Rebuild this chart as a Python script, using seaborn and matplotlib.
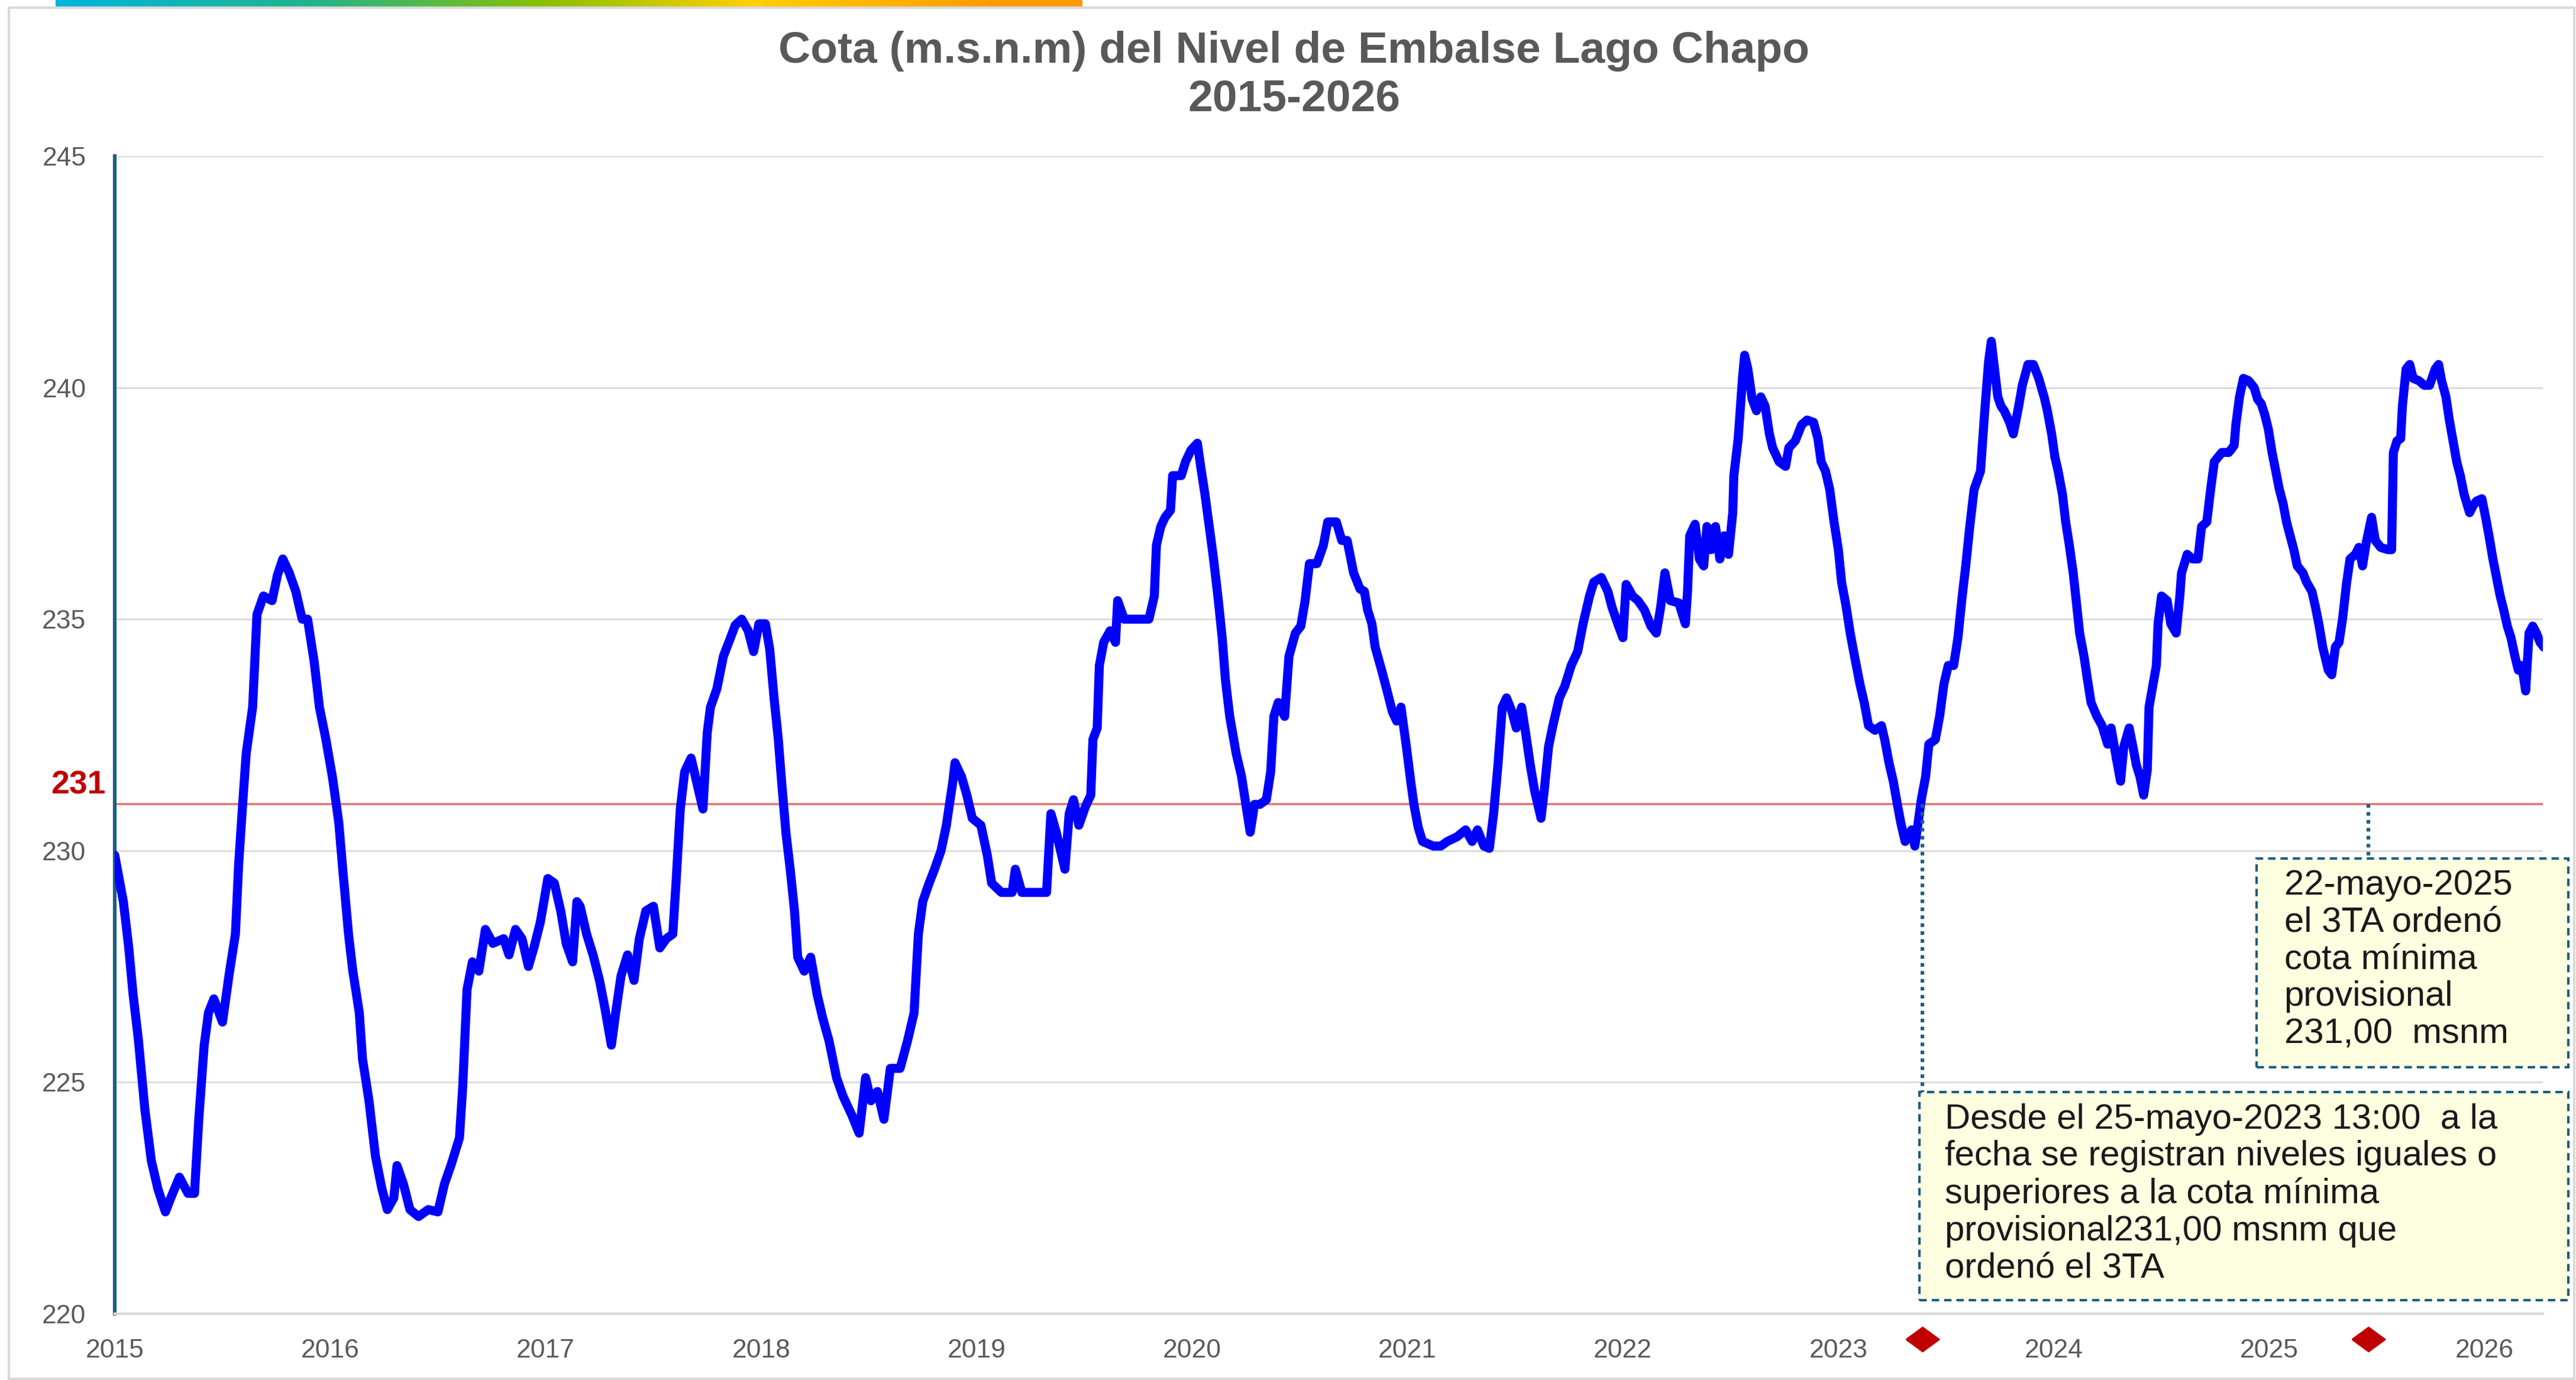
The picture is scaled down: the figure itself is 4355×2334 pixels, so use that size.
import numpy as np
import pandas as pd
import matplotlib.pyplot as plt
import matplotlib.ticker as mticker
from matplotlib.colors import LinearSegmentedColormap
from matplotlib.patches import Rectangle
import seaborn as sns

# Cota del embalse: (anio decimal, m.s.n.m)
tramo_2015_2017 = [
    (2015.00, 229.9), (2015.04, 228.9), (2015.065, 227.9), (2015.085, 226.9), (2015.11, 225.9),
    (2015.14, 224.4), (2015.17, 223.3), (2015.20, 222.7), (2015.235, 222.2), (2015.26, 222.5),
    (2015.30, 222.95), (2015.34, 222.6), (2015.37, 222.6), (2015.39, 224.2), (2015.415, 225.8),
    (2015.435, 226.5), (2015.46, 226.8), (2015.50, 226.3), (2015.53, 227.3), (2015.56, 228.2),
    (2015.575, 229.7), (2015.595, 231.1), (2015.61, 232.1), (2015.64, 233.1), (2015.66, 235.1),
    (2015.69, 235.5), (2015.73, 235.4), (2015.755, 235.95), (2015.78, 236.3), (2015.81, 236.0),
    (2015.84, 235.6), (2015.87, 235.0), (2015.895, 235.0), (2015.925, 234.1), (2015.95, 233.1),
    (2015.98, 232.4), (2016.01, 231.6), (2016.04, 230.6), (2016.06, 229.5), (2016.085, 228.2),
    (2016.105, 227.4), (2016.135, 226.5), (2016.15, 225.5), (2016.18, 224.6), (2016.21, 223.4),
    (2016.24, 222.7), (2016.265, 222.25), (2016.295, 222.5), (2016.31, 223.2), (2016.34, 222.8),
    (2016.37, 222.25), (2016.41, 222.1), (2016.455, 222.25), (2016.50, 222.2), (2016.53, 222.8),
    (2016.56, 223.2), (2016.60, 223.8), (2016.615, 224.9), (2016.635, 227.0), (2016.66, 227.6),
    (2016.69, 227.4), (2016.72, 228.3), (2016.755, 228.0), (2016.805, 228.1), (2016.83, 227.75),
    (2016.86, 228.3), (2016.89, 228.1), (2016.92, 227.5), (2016.945, 227.9), (2016.975, 228.45),
    (2017.01, 229.4), (2017.04, 229.3), (2017.07, 228.7), (2017.095, 228.0), (2017.125, 227.6),
    (2017.145, 228.9), (2017.16, 228.8), (2017.19, 228.2), (2017.22, 227.75), (2017.25, 227.2),
    (2017.275, 226.6), (2017.305, 225.8), (2017.325, 226.5), (2017.35, 227.3), (2017.38, 227.75),
    (2017.41, 227.2), (2017.435, 228.1), (2017.465, 228.7), (2017.50, 228.8), (2017.53, 227.9),
    (2017.56, 228.1), (2017.59, 228.2), (2017.605, 229.3), (2017.625, 230.9), (2017.645, 231.7),
    (2017.675, 232.0), (2017.70, 231.5), (2017.73, 230.9), (2017.75, 232.55), (2017.765, 233.1),
    (2017.795, 233.5), (2017.825, 234.2), (2017.85, 234.5),
]

tramo_2018_2020 = [
    (2017.88, 234.87), (2017.91, 235.0), (2017.94, 234.75), (2017.965, 234.3), (2017.99, 234.9),
    (2018.02, 234.9), (2018.04, 234.35), (2018.06, 233.3), (2018.08, 232.4), (2018.095, 231.5),
    (2018.115, 230.4), (2018.135, 229.6), (2018.155, 228.7), (2018.17, 227.7), (2018.20, 227.4),
    (2018.23, 227.7), (2018.26, 226.9), (2018.285, 226.4), (2018.315, 225.9), (2018.35, 225.1),
    (2018.38, 224.7), (2018.42, 224.3), (2018.455, 223.9), (2018.485, 225.1), (2018.51, 224.6),
    (2018.54, 224.8), (2018.57, 224.2), (2018.60, 225.3), (2018.645, 225.3), (2018.68, 225.9),
    (2018.71, 226.5), (2018.73, 228.2), (2018.75, 228.9), (2018.78, 229.3), (2018.805, 229.6),
    (2018.835, 230.0), (2018.86, 230.55), (2018.89, 231.5), (2018.90, 231.9), (2018.93, 231.6),
    (2018.955, 231.2), (2018.98, 230.7), (2019.02, 230.55), (2019.05, 229.9), (2019.07, 229.3),
    (2019.115, 229.1), (2019.165, 229.1), (2019.18, 229.6), (2019.21, 229.1), (2019.27, 229.1),
    (2019.325, 229.1), (2019.345, 230.8), (2019.37, 230.4), (2019.39, 230.0), (2019.41, 229.6),
    (2019.43, 230.8), (2019.45, 231.1), (2019.475, 230.55), (2019.505, 230.95), (2019.53, 231.2),
    (2019.54, 232.4), (2019.56, 232.65), (2019.57, 234.0), (2019.59, 234.5), (2019.62, 234.75),
    (2019.645, 234.5), (2019.655, 235.4), (2019.685, 235.0), (2019.72, 235.0), (2019.76, 235.0),
    (2019.80, 235.0), (2019.825, 235.5), (2019.835, 236.6), (2019.855, 237.0), (2019.875, 237.2),
    (2019.90, 237.35), (2019.91, 238.1), (2019.95, 238.1), (2019.97, 238.4), (2019.995, 238.65),
    (2020.025, 238.8), (2020.04, 238.3), (2020.06, 237.7), (2020.08, 237.0), (2020.10, 236.3),
    (2020.12, 235.5), (2020.14, 234.6), (2020.155, 233.7), (2020.175, 232.9), (2020.205, 232.1),
    (2020.23, 231.6), (2020.25, 231.0), (2020.27, 230.4), (2020.29, 231.0), (2020.315, 231.0),
    (2020.345, 231.1), (2020.365, 231.7), (2020.38, 232.9), (2020.40, 233.2), (2020.43, 232.9),
    (2020.45, 234.2), (2020.48, 234.7), (2020.505, 234.85), (2020.525, 235.4), (2020.545, 236.2),
    (2020.58, 236.2), (2020.61, 236.6), (2020.63, 237.1), (2020.67, 237.1), (2020.695, 236.7),
    (2020.72, 236.7), (2020.75, 236.0), (2020.78, 235.65),
]

tramo_2021_2023 = [
    (2020.80, 235.6), (2020.815, 235.2), (2020.835, 234.9), (2020.85, 234.4), (2020.88, 233.9),
    (2020.90, 233.55), (2020.93, 233.0), (2020.95, 232.8), (2020.97, 233.1), (2020.995, 232.25),
    (2021.015, 231.5), (2021.03, 231.0), (2021.05, 230.5), (2021.07, 230.2), (2021.12, 230.1),
    (2021.155, 230.1), (2021.185, 230.2), (2021.23, 230.3), (2021.27, 230.45), (2021.30, 230.2),
    (2021.325, 230.45), (2021.355, 230.1), (2021.38, 230.05), (2021.40, 230.8), (2021.42, 231.85),
    (2021.44, 233.1), (2021.46, 233.3), (2021.485, 233.0), (2021.505, 232.65), (2021.53, 233.1),
    (2021.55, 232.5), (2021.57, 231.85), (2021.59, 231.3), (2021.62, 230.7), (2021.635, 231.3),
    (2021.655, 232.25), (2021.675, 232.7), (2021.705, 233.3), (2021.73, 233.55), (2021.76, 234.0),
    (2021.79, 234.3), (2021.815, 234.9), (2021.845, 235.5), (2021.865, 235.8), (2021.90, 235.9),
    (2021.93, 235.6), (2021.95, 235.25), (2021.98, 234.85), (2022.00, 234.6), (2022.015, 235.75),
    (2022.045, 235.5), (2022.07, 235.4), (2022.10, 235.2), (2022.13, 234.85), (2022.155, 234.7),
    (2022.175, 235.25), (2022.195, 236.0), (2022.22, 235.4), (2022.26, 235.35), (2022.29, 234.9),
    (2022.30, 235.6), (2022.31, 236.8), (2022.335, 237.05), (2022.355, 236.3), (2022.375, 236.15),
    (2022.39, 237.0), (2022.41, 236.5), (2022.43, 237.0), (2022.45, 236.3), (2022.47, 236.8),
    (2022.49, 236.4), (2022.51, 237.3), (2022.515, 238.1), (2022.535, 238.9), (2022.555, 240.2),
    (2022.565, 240.7), (2022.58, 240.4), (2022.60, 239.75), (2022.62, 239.5), (2022.64, 239.8),
    (2022.66, 239.6), (2022.68, 239.0), (2022.695, 238.7), (2022.725, 238.4), (2022.755, 238.3),
    (2022.77, 238.7), (2022.80, 238.85), (2022.83, 239.2), (2022.855, 239.3), (2022.885, 239.25),
    (2022.905, 238.9), (2022.92, 238.4), (2022.94, 238.2), (2022.96, 237.8), (2022.98, 237.1),
    (2023.00, 236.5), (2023.015, 235.8), (2023.035, 235.3), (2023.055, 234.7), (2023.075, 234.2),
    (2023.10, 233.6), (2023.12, 233.2), (2023.14, 232.7), (2023.17, 232.6), (2023.20, 232.7),
    (2023.215, 232.4), (2023.235, 231.9), (2023.255, 231.5), (2023.27, 231.1), (2023.29, 230.6),
    (2023.31, 230.2), (2023.34, 230.45), (2023.355, 230.1), (2023.385, 231.1), (2023.405, 231.6),
    (2023.42, 232.3), (2023.45, 232.4), (2023.47, 232.9), (2023.49, 233.6), (2023.51, 234.0),
    (2023.535, 234.0), (2023.555, 234.6), (2023.575, 235.5), (2023.59, 236.1), (2023.61, 237.0),
    (2023.63, 237.8), (2023.66, 238.2), (2023.678, 239.4), (2023.697, 240.55),
]

tramo_2024_2026 = [
    (2023.71, 241.0), (2023.725, 240.4), (2023.74, 239.8), (2023.755, 239.6), (2023.77, 239.5),
    (2023.795, 239.25), (2023.812, 239.0), (2023.837, 239.6), (2023.854, 240.05), (2023.88, 240.5),
    (2023.905, 240.5), (2023.93, 240.2), (2023.955, 239.8), (2023.97, 239.5), (2023.99, 239.0),
    (2024.005, 238.5), (2024.02, 238.2), (2024.04, 237.7), (2024.055, 237.1), (2024.072, 236.6),
    (2024.09, 236.0), (2024.106, 235.3), (2024.12, 234.7), (2024.14, 234.2), (2024.156, 233.7),
    (2024.173, 233.2), (2024.20, 232.9), (2024.224, 232.7), (2024.25, 232.3), (2024.266, 232.65),
    (2024.29, 232.0), (2024.31, 231.5), (2024.325, 232.25), (2024.35, 232.65), (2024.367, 232.25),
    (2024.383, 231.85), (2024.40, 231.6), (2024.417, 231.2), (2024.434, 231.75), (2024.442, 233.1),
    (2024.459, 233.55), (2024.476, 234.0), (2024.484, 234.9), (2024.50, 235.5), (2024.526, 235.4),
    (2024.543, 234.9), (2024.568, 234.7), (2024.585, 235.5), (2024.593, 236.0), (2024.619, 236.4),
    (2024.644, 236.3), (2024.669, 236.3), (2024.686, 237.0), (2024.71, 237.1), (2024.728, 237.8),
    (2024.745, 238.4), (2024.78, 238.6), (2024.812, 238.6), (2024.837, 238.75), (2024.845, 239.2),
    (2024.862, 239.8), (2024.88, 240.2), (2024.904, 240.15), (2024.93, 240.0), (2024.946, 239.75),
    (2024.963, 239.65), (2024.98, 239.4), (2024.996, 239.1), (2025.013, 238.6), (2025.03, 238.2),
    (2025.047, 237.8), (2025.064, 237.5), (2025.08, 237.1), (2025.097, 236.8), (2025.114, 236.5),
    (2025.13, 236.15), (2025.156, 236.0), (2025.173, 235.8), (2025.198, 235.6), (2025.215, 235.25),
    (2025.232, 234.85), (2025.248, 234.4), (2025.274, 233.9), (2025.29, 233.8), (2025.307, 234.4),
    (2025.324, 234.5), (2025.34, 235.0), (2025.358, 235.75), (2025.375, 236.3), (2025.40, 236.4),
    (2025.416, 236.55), (2025.433, 236.15), (2025.45, 236.65), (2025.475, 237.2), (2025.492, 236.7),
    (2025.517, 236.55), (2025.551, 236.5), (2025.568, 236.5), (2025.576, 238.6), (2025.593, 238.85),
    (2025.61, 238.9), (2025.618, 239.6), (2025.635, 240.4), (2025.652, 240.5), (2025.668, 240.2),
    (2025.694, 240.15), (2025.72, 240.05), (2025.744, 240.05), (2025.77, 240.4), (2025.786, 240.5),
    (2025.80, 240.15), (2025.82, 239.8), (2025.836, 239.3), (2025.853, 238.85), (2025.87, 238.4),
    (2025.887, 238.1), (2025.904, 237.7), (2025.93, 237.3), (2025.946, 237.45), (2025.962, 237.55),
    (2025.987, 237.6), (2026.004, 237.2), (2026.02, 236.8), (2026.038, 236.3), (2026.055, 235.9),
    (2026.072, 235.5), (2026.088, 235.2), (2026.105, 234.85), (2026.122, 234.6), (2026.14, 234.2),
    (2026.156, 233.9), (2026.172, 234.0), (2026.19, 233.45), (2026.206, 234.7), (2026.223, 234.85),
    (2026.24, 234.7), (2026.257, 234.5), (2026.273, 234.4),
]

anios_eje = list(range(2015, 2027))
cotas_eje = [220, 225, 230, 235, 240, 245]
cota_minima = 231
fechas_marca = [2023.39, 2025.46]   # 25-mayo-2023 y orden 2025

titulo_1 = 'Cota (m.s.n.m) del Nivel de Embalse Lago Chapo'
titulo_2 = '2015-2026'
texto_2025 = '22-mayo-2025\nel 3TA ordenó\ncota mínima\nprovisional\n231,00  msnm'
texto_2023 = ('Desde el 25-mayo-2023 13:00  a la\nfecha se registran niveles iguales o\n'
              'superiores a la cota mínima\nprovisional231,00 msnm que\nordenó el 3TA')

df = pd.DataFrame(tramo_2015_2017 + tramo_2018_2020 + tramo_2021_2023 + tramo_2024_2026,
                  columns=['anio', 'cota'])

sns.set_style('white')
plt.rcParams['font.family'] = ['Liberation Sans', 'DejaVu Sans']

gris = '#595959'
azul_eje = '#1B5E80'
gris_claro = '#D9D9D9'

fig = plt.figure(figsize=(21.775, 11.67), dpi=200)
ax = fig.add_axes([0.04455, 0.04799, 0.94259, 0.8389])

# Serie principal y cota minima
ax.axhline(cota_minima, color='#E27676', lw=1.3, zorder=2)
sns.lineplot(data=df, x='anio', y='cota', color='#0000FF', linewidth=5.5,
             sort=False, estimator=None, ax=ax, zorder=3)

ax.set_xlim(2015, 2026.27)
ax.set_ylim(220, 245)
ax.set_xlabel('')
ax.set_ylabel('')

# Ejes y marcas
ax.set_xticks(anios_eje)
ax.set_xticklabels([str(a) for a in anios_eje])
ax.xaxis.set_minor_locator(mticker.MultipleLocator(1 / 12))
ax.set_yticks(cotas_eje)
ax.yaxis.set_minor_locator(mticker.MultipleLocator(1))
ax.tick_params(axis='y', which='major', direction='inout', length=13, width=1.3,
               color=azul_eje, labelsize=16, labelcolor=gris, pad=11)
ax.tick_params(axis='y', which='minor', direction='in', length=5, width=1.2, color=azul_eje)
ax.tick_params(axis='x', which='major', direction='out', length=5, width=1.0,
               color=gris_claro, labelsize=16, labelcolor=gris, pad=10)
ax.tick_params(axis='x', which='minor', direction='in', length=3, width=1.0, color=gris_claro)

ax.spines['top'].set_visible(False)
ax.spines['right'].set_visible(False)
ax.spines['left'].set_color(azul_eje)
ax.spines['left'].set_linewidth(2.2)
ax.spines['bottom'].set_color(gris_claro)
ax.spines['bottom'].set_linewidth(1.6)
ax.yaxis.grid(True, color=gris_claro, lw=1.0)
ax.xaxis.grid(False)
ax.set_axisbelow(True)

ax.text(-0.0151, 231.41, str(cota_minima), transform=ax.get_yaxis_transform(),
        ha='center', va='center', color='#C00000', fontsize=20, fontweight='bold')

# Lineas punteadas hacia los recuadros
ax.plot([fechas_marca[0], fechas_marca[0]], [cota_minima, 224.79], color=azul_eje,
        lw=2.2, ls=(0, (1, 1.2)), clip_on=False, zorder=4)
ax.plot([fechas_marca[1], fechas_marca[1]], [cota_minima, 229.83], color=azul_eje,
        lw=2.2, ls=(0, (1, 1.2)), clip_on=False, zorder=4)

# Recuadros de texto
ax.add_patch(Rectangle((2024.94, 225.32), 1.449, 4.51, facecolor='#FEFEE0', edgecolor=azul_eje,
                       lw=1.5, ls=(0, (3, 2)), clip_on=False, zorder=5))
ax.add_patch(Rectangle((2023.376, 220.29), 3.013, 4.50, facecolor='#FEFEE0', edgecolor=azul_eje,
                       lw=1.5, ls=(0, (3, 2)), clip_on=False, zorder=5))
ax.text(2025.069, 229.6, texto_2025, ha='left', va='top', fontsize=21.5, color='#1A1A1A',
        linespacing=1.18, zorder=6, clip_on=False)
ax.text(2023.494, 224.55, texto_2023, ha='left', va='top', fontsize=21.5, color='#1A1A1A',
        linespacing=1.18, zorder=6, clip_on=False)

# Rombos rojos bajo el eje
rombo = [(-1, 0), (0, 0.73), (1, 0), (0, -0.73), (-1, 0)]
ax.plot(fechas_marca, [219.45] * len(fechas_marca), ls='none', marker=rombo, markersize=20,
        color='#C00000', clip_on=False, zorder=6)

# Titulo
fig.text(0.5024, 0.963, titulo_1, ha='center', va='center', fontsize=27,
         fontweight='bold', color=gris)
fig.text(0.5024, 0.928, titulo_2, ha='center', va='center', fontsize=27,
         fontweight='bold', color=gris)

# Barra de color superior y marco
cmap = LinearSegmentedColormap.from_list(
    'barra', [(0, '#00B4DC'), (0.25, '#22B48C'), (0.48, '#8CC000'), (0.68, '#FFD000'),
              (0.92, '#FF9900'), (1, '#FF9900')])
gax = fig.add_axes([94 / 4355, 1 - 11 / 2334, 1736 / 4355, 11 / 2334])
gax.imshow(np.linspace(0, 1, 256)[None, :], aspect='auto', cmap=cmap)
gax.axis('off')

fig.patches.append(Rectangle((15 / 4355, 0.001), 1 - 18 / 4355, 1 - 13 / 2334 - 0.001,
                             transform=fig.transFigure, fill=False,
                             edgecolor=gris_claro, lw=1.5))

fig.savefig('out.png', dpi=200)
